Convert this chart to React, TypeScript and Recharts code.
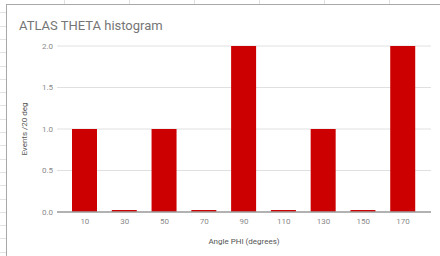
import { BarChart, Bar, XAxis, YAxis, CartesianGrid } from "recharts";

// Histogram of ATLAS events by angle bin (20 deg bins)
const BINS = ["10", "30", "50", "70", "90", "110", "130", "150", "170"];
const EVENTS = [1, 0, 1, 0, 2, 0, 1, 0, 2];
const Y_TICKS = [0, 0.5, 1, 1.5, 2];

const FONT = "Roboto, Arial, sans-serif";
const BAR_RED = "#cc0000";

const rows = BINS.map((bin, i) => ({ bin, events: EVENTS[i] }));

export default function App() {
  return (
    <div
      style={{
        position: "fixed",
        left: 0,
        top: 0,
        width: 440,
        height: 256,
        background: "#fff",
        overflow: "hidden",
        fontFamily: FONT,
      }}
    >
      {/* spreadsheet cells peeking out behind the chart */}
      <div
        style={{
          position: "absolute",
          left: 0,
          top: 0,
          width: 440,
          height: 4,
          backgroundImage:
            "repeating-linear-gradient(to right, transparent 0 64px, #e2e2e2 64px 65px)",
        }}
      />
      <div
        style={{
          position: "absolute",
          left: 0,
          top: 0,
          width: 6,
          height: 256,
          backgroundImage:
            "repeating-linear-gradient(to bottom, transparent 0 12.3px, #e2e2e2 12.3px 13.3px)",
        }}
      />
      <div style={{ position: "absolute", left: 6, top: 4, width: 434, height: 1, background: "#a8a8a8" }} />
      <div style={{ position: "absolute", left: 6, top: 4, width: 1, height: 252, background: "#a8a8a8" }} />

      <div
        style={{
          position: "absolute",
          left: 19,
          top: 18,
          fontSize: 13,
          lineHeight: "15px",
          color: "#757575",
        }}
      >
        ATLAS THETA histogram
      </div>

      <div style={{ position: "absolute", left: 0, top: 0 }}>
        <BarChart
          width={440}
          height={256}
          data={rows}
          margin={{ top: 46, right: 9, bottom: 0, left: 0 }}
          barSize={25}
        >
          <CartesianGrid vertical={false} stroke="#e0e0e0" />
          <XAxis
            dataKey="bin"
            height={44}
            padding={{ left: 8, right: 8 }}
            tickLine={false}
            tickSize={0}
            tickMargin={6}
            axisLine={{ stroke: "#9e9e9e", strokeWidth: 1.5 }}
            tick={{ fill: "#8a8a8a", fontSize: 8, fontFamily: FONT }}
            label={{
              value: "Angle PHI (degrees)",
              position: "insideBottom",
              offset: 12,
              fill: "#555",
              fontSize: 8,
              fontFamily: FONT,
            }}
          />
          <YAxis
            width={57}
            domain={[0, 2]}
            ticks={Y_TICKS}
            tickFormatter={(v: number) => v.toFixed(1)}
            axisLine={false}
            tickLine={false}
            tickSize={0}
            tickMargin={4}
            tick={{ fill: "#8a8a8a", fontSize: 8, fontFamily: FONT }}
            label={{
              value: "Events /20 deg",
              angle: -90,
              position: "insideLeft",
              offset: 24,
              fill: "#555",
              fontSize: 8,
              fontFamily: FONT,
              style: { textAnchor: "middle" },
            }}
          />
          <Bar dataKey="events" fill={BAR_RED} minPointSize={2} isAnimationActive={false} />
        </BarChart>
      </div>
    </div>
  );
}
